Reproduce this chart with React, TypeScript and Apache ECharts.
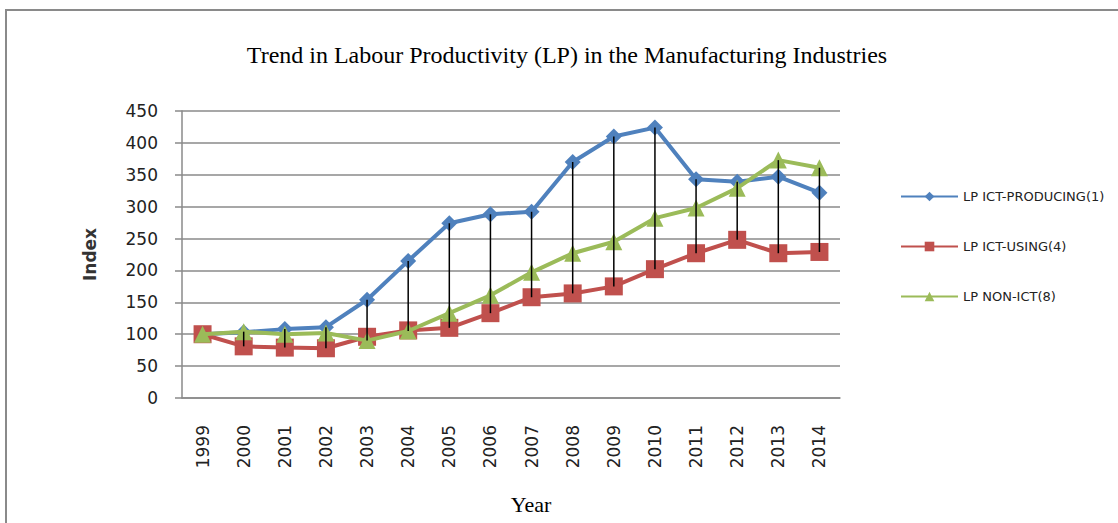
import React, { useEffect, useRef } from "react";
import * as echarts from "echarts";

const years = ["1999","2000","2001","2002","2003","2004","2005","2006","2007","2008","2009","2010","2011","2012","2013","2014"];
const ictProducing = [100, 103, 108, 111, 154, 215, 274, 288, 292, 370, 410, 424, 343, 339, 347, 322];
const ictUsing = [100, 81, 79, 78, 96, 106, 110, 133, 158, 164, 175, 202, 227, 248, 227, 229];
const nonIct = [100, 104, 100, 102, 90, 105, 133, 161, 197, 227, 245, 282, 298, 329, 373, 361];
const seriesNames = ["LP ICT-PRODUCING(1)", "LP ICT-USING(4)", "LP NON-ICT(8)"];
const yTicks = { min: 0, max: 450, interval: 50 };

export default function App() {
  const ref = useRef<HTMLDivElement>(null);
  useEffect(() => {
    if (!ref.current) return;
    const chart = echarts.init(ref.current, null, { renderer: "svg" });
    const hiLo = years.map((_, i) => {
      const vals = [ictProducing[i], ictUsing[i], nonIct[i]];
      return [i, Math.min(...vals), Math.max(...vals)];
    });
    const labelFont = { fontFamily: "DejaVu Sans", fontSize: 17, color: "#222" };
    chart.setOption({
      animation: false,
      backgroundColor: "#fff",
      title: {
        text: "Trend in Labour Productivity (LP) in the Manufacturing Industries",
        left: 562,
        textAlign: "center",
        top: 38,
        textStyle: { fontFamily: "Liberation Serif", fontSize: 24, fontWeight: "normal", color: "#000" },
      },
      graphic: [
        {
          type: "rect",
          shape: { x: 6, y: 10, width: 1300, height: 700 },
          style: { fill: "none", stroke: "#8a8a8a", lineWidth: 2 },
          silent: true,
        },
      ],
      legend: {
        orient: "vertical",
        left: 895,
        top: 185,
        itemWidth: 57,
        itemHeight: 12,
        itemGap: 37,
        data: seriesNames,
        textStyle: { fontFamily: "DejaVu Sans", fontSize: 13, color: "#222" },
      },
      grid: { left: 182, right: 278, top: 111, bottom: 125 },
      xAxis: {
        type: "category",
        data: years,
        boundaryGap: true,
        name: "Year",
        nameLocation: "middle",
        nameGap: 95,
        nameTextStyle: { fontFamily: "Liberation Serif", fontSize: 22, color: "#000", padding: [0, 0, 0, 40] },
        axisLine: { lineStyle: { color: "#8a8a8a", width: 1.5 } },
        axisTick: { show: false },
        axisLabel: { ...labelFont, rotate: 90, margin: 27 },
      },
      yAxis: {
        type: "value",
        ...yTicks,
        name: "Index",
        nameLocation: "middle",
        nameGap: 84,
        nameRotate: 90,
        nameTextStyle: { fontFamily: "DejaVu Sans", fontSize: 17, fontWeight: "bold", color: "#333" },
        axisLine: { show: true, lineStyle: { color: "#8a8a8a", width: 1.5 } },
        axisTick: { show: true, inside: false, length: 7, lineStyle: { color: "#8a8a8a", width: 1.5 } },
        axisLabel: { ...labelFont, margin: 24 },
        splitLine: { lineStyle: { color: "#8a8a8a", width: 1.5 } },
      },
      series: [
        {
          name: seriesNames[0],
          type: "line",
          data: ictProducing,
          symbol: "diamond",
          symbolSize: 16,
          color: "#4F81BD",
          lineStyle: { width: 4, color: "#4F81BD" },
          itemStyle: { color: "#4F81BD" },
          z: 2,
        },
        {
          name: seriesNames[1],
          type: "line",
          data: ictUsing,
          symbol: "rect",
          symbolSize: 18,
          color: "#C0504D",
          lineStyle: { width: 4, color: "#C0504D" },
          itemStyle: { color: "#C0504D" },
          z: 3,
        },
        {
          name: seriesNames[2],
          type: "line",
          data: nonIct,
          symbol: "triangle",
          symbolSize: 17,
          color: "#9BBB59",
          lineStyle: { width: 4, color: "#9BBB59" },
          itemStyle: { color: "#9BBB59" },
          z: 4,
        },
        {
          name: "hilo",
          type: "custom",
          data: hiLo,
          z: 10,
          silent: true,
          renderItem: (params: any, api: any) => {
            const p1 = api.coord([api.value(0), api.value(1)]);
            const p2 = api.coord([api.value(0), api.value(2)]);
            return {
              type: "line",
              shape: { x1: p1[0], y1: p1[1], x2: p2[0], y2: p2[1] },
              style: { stroke: "#000", lineWidth: 1.5 },
            };
          },
        },
      ],
    });
    return () => chart.dispose();
  }, []);
  return <div ref={ref} style={{ position: "absolute", left: 0, top: 0, width: 1118, height: 523 }} />;
}
